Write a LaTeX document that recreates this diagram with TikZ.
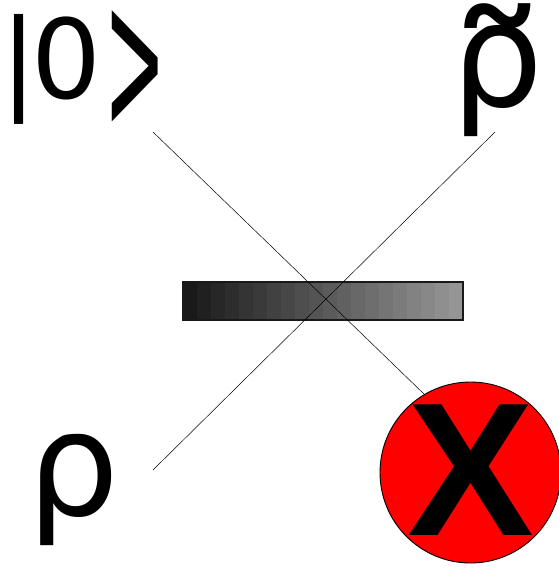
\documentclass[tikz,border=0pt]{standalone}
\usepackage{fontspec}
\setmainfont{DejaVu Sans}
\newfontfamily\xfont{Liberation Sans}
\tikzset{
  lbl/.style={inner sep=0pt,outer sep=0pt,text=black},
  beam/.style={draw=black,line width=0.5pt}
}
\begin{document}
\begin{tikzpicture}[x=1pt,y=-1pt]
\useasboundingbox (0,0) rectangle (558,569);
% beam splitter, in steps
\foreach \i in {0,...,19}{
  \pgfmathsetmacro{\g}{90-2.55*\i}
  \fill[black!\g] ({183+14*\i},282) rectangle ({183+14*(\i+1)+0.3},320);
}
\draw[line width=1.6pt,draw=black!90] (183,282) rectangle (463,320);
% X circle
\node[circle,draw=black,fill=red,line width=0.9pt,minimum size=181pt,inner sep=0pt] (det) at (470.5,472.5) {};
\node[lbl,font=\xfont\fontsize{190}{190}\selectfont\bfseries] (x) at (471,470.5) {X};
% labels
\node[lbl,font=\fontsize{110}{110}\selectfont,anchor=base west] (zero) at (0,99) {|\kern-6pt 0};
\node[lbl,font=\fontsize{208}{208}\selectfont,anchor=center] (ket) at (135,71.5) {\scalebox{0.352}[1]{>}};
\node[lbl,font=\fontsize{145}{145}\selectfont,anchor=base west] (rho) at (27,515) {ρ};
\node[lbl,font=\fontsize{145}{145}\selectfont,anchor=base west] (rhot) at (451,107) {ρ};
\node[lbl,font=\fontsize{180}{180}\selectfont,anchor=base] (tilde) at (497.5,144) {\scalebox{1.14}[1]{˜}};
% connectors
\coordinate (a) at (153,132);
\coordinate (e) at (424,394);
\coordinate (b) at (153,470);
\coordinate (c) at (495,132);
\draw[beam] (a) -- (e);
\draw[beam] (b) -- (c);
\end{tikzpicture}
\end{document}
